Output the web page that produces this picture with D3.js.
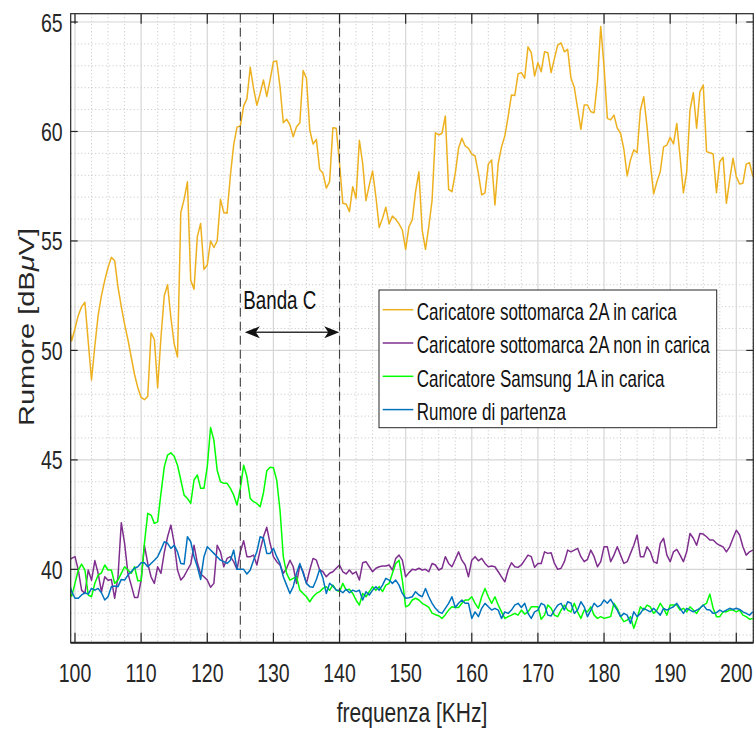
<!DOCTYPE html>
<html>
<head>
<meta charset="utf-8">
<script src="https://cdn.jsdelivr.net/npm/d3@7"></script>
<style>
html, body { margin: 0; padding: 0; background: #fff; }
svg { display: block; font-family: "Liberation Sans", Arial, Helvetica, sans-serif; }
</style>
</head>
<body>
<svg id="chart" width="756" height="729"></svg>
<script>
// sampling grid in kHz: one point every 0.5 kHz, from 99 to 202.5
var freq = d3.range(99, 202.75, 0.5);

// Caricatore sottomarca 2A in carica  (10 values = 5 kHz per row)
var sottomarcaCarica = [
  51.3, 50.44, 51.0, 51.6, 52.0, 52.2, 50.4, 48.65, 50.2, 51.6,
  52.5, 53.2, 53.8, 54.25, 54.1, 52.9, 52.0, 51.2, 50.5, 49.7,
  48.9, 48.3, 47.85, 47.75, 47.9, 50.8, 50.5, 48.3, 50.6, 52.5,
  53.0, 51.5, 50.3, 49.7, 56.3, 56.9, 57.7, 53.2, 52.8, 55.2,
  55.8, 53.7, 53.9, 55.0, 54.7, 55.0, 56.9, 56.3, 56.27, 58.0,
  59.4, 60.2, 60.25, 61.16, 61.5, 62.93, 61.97, 61.2, 61.74, 62.35,
  61.6, 62.35, 63.19, 63.22, 62.05, 60.4, 60.56, 60.3, 59.76, 60.22,
  60.4, 62.78, 62.43, 60.07, 59.43, 59.64, 58.27, 58.09, 57.41, 57.71,
  60.17, 60.15, 58.55, 56.72, 56.69, 56.34, 57.48, 56.95, 59.6, 58.55,
  56.84, 57.55, 58.2, 57.02, 55.61, 56.04, 56.54, 55.78, 56.14, 55.99,
  55.78, 55.5, 54.62, 55.65, 55.96, 57.25, 58.16, 55.5, 54.62, 55.65,
  56.87, 59.94, 59.84, 59.92, 60.71, 57.36, 57.25, 58.09, 59.23, 59.69,
  59.34, 59.23, 58.97, 58.88, 58.09, 57.1, 57.2, 58.51, 58.7, 56.64,
  58.55, 59.3, 59.8, 60.68, 61.67, 61.64, 62.63, 62.69, 62.43, 63.87,
  63.6, 62.53, 63.14, 62.73, 63.64, 63.6, 62.69, 63.34, 63.95, 64.05,
  63.64, 63.75, 62.43, 62.02, 61.06, 60.1, 61.21, 61.21, 60.9, 60.86,
  62.27, 64.79, 62.96, 60.6, 60.53, 60.75, 60.15, 59.92, 59.19, 57.97,
  58.7, 59.16, 59.03, 60.98, 61.59, 60.22, 58.55, 57.15, 57.71, 58.16,
  59.3, 59.38, 59.73, 59.43, 60.37, 58.85, 57.2, 58.16, 60.98, 61.77,
  60.15, 61.82, 62.12, 59.08, 59.03, 58.97, 57.2, 58.62, 58.82, 56.72,
  57.79, 58.78, 57.94, 57.6, 57.64, 58.51, 58.57, 57.94
];

// Caricatore sottomarca 2A non in carica
var sottomarcaNonCarica = [
  40.42, 40.5, 40.58, 39.97, 39.05, 38.9, 39.97, 39.5, 40.4, 39.82,
  38.98, 39.66, 39.5, 39.54, 38.68, 39.66, 42.13, 41.19, 39.82, 39.28,
  38.72, 38.72, 39.51, 41.1, 40.27, 39.66, 39.36, 40.12, 39.82, 40.76,
  41.49, 42.02, 41.19, 39.97, 39.51, 39.69, 39.97, 40.24, 41.1, 40.3,
  39.79, 39.66, 39.51, 39.18, 39.36, 41.1, 40.8, 40.12, 40.5, 40.58,
  40.35, 40.0, 40.8, 41.31, 40.58, 40.58, 40.65, 40.2, 40.88, 41.49,
  41.92, 41.19, 40.58, 40.35, 40.2, 39.82, 40.05, 40.42, 40.12, 39.36,
  40.2, 39.89, 39.36, 39.97, 40.5, 40.42, 39.97, 39.89, 39.66, 39.82,
  39.89, 40.05, 40.2, 39.89, 39.79, 39.97, 39.79, 39.89, 39.51, 40.3,
  40.35, 40.12, 39.89, 40.05, 40.12, 40.15, 40.15, 40.2, 39.97, 40.5,
  40.65, 40.42, 39.66, 39.85, 40.0, 39.97, 40.05, 39.97, 40.0, 39.89,
  40.27, 40.2, 39.97, 40.05, 40.58, 40.27, 40.12, 40.45, 40.8, 40.42,
  40.2, 39.66, 40.42, 40.58, 40.39, 40.5, 40.27, 40.12, 40.15, 40.12,
  39.89, 39.66, 39.43, 39.97, 40.3, 40.12, 40.09, 40.2, 40.42, 40.65,
  40.58, 40.09, 40.27, 40.27, 40.8, 40.73, 40.76, 40.27, 40.0, 40.05,
  40.35, 40.88, 40.8, 40.88, 40.96, 40.58, 40.35, 40.46, 40.88, 40.58,
  40.12, 40.35, 41.03, 41.03, 40.35, 40.65, 41.03, 40.65, 40.27, 40.35,
  40.73, 41.1, 41.57, 40.58, 40.58, 41.03, 40.8, 40.35, 40.27, 41.19,
  41.42, 40.65, 40.35, 40.8, 40.91, 40.65, 40.35, 40.8, 41.64, 41.42,
  41.1, 41.64, 41.61, 41.49, 41.34, 41.34, 41.19, 41.1, 41.03, 40.8,
  41.03, 41.42, 41.79, 41.57, 41.03, 40.65, 40.8, 40.88
];

// Caricatore Samsung 1A in carica
var samsungCarica = [
  39.05, 38.78, 39.36, 39.97, 40.24, 39.97, 38.83, 38.75, 39.36, 39.74,
  39.84, 40.2, 39.97, 39.97, 39.36, 39.51, 39.82, 40.12, 39.97, 39.82,
  40.12, 39.48, 39.48, 41.19, 42.56, 42.48, 42.1, 42.17, 43.47, 44.68,
  45.22, 45.32, 45.17, 44.76, 44.08, 43.39, 43.24, 43.01, 44.08, 44.31,
  43.7, 43.7, 44.68, 46.48, 45.9, 44.53, 44.0, 43.93, 43.93, 43.7,
  43.39, 42.94, 43.7, 44.76, 44.23, 43.24, 43.09, 43.01, 42.86, 43.5,
  44.5, 44.66, 44.64, 44.08, 42.71, 40.58, 39.82, 39.51, 39.59, 39.66,
  39.05, 38.9, 38.75, 38.52, 38.75, 38.9, 38.98, 39.13, 39.21, 39.05,
  39.28, 39.05, 38.98, 39.36, 39.05, 39.09, 38.9, 38.6, 38.37, 38.9,
  38.75, 38.98, 39.21, 39.05, 39.21, 38.98, 39.28, 39.36, 39.82, 40.27,
  40.42, 39.51, 38.29, 38.37, 38.6, 38.68, 38.6, 38.45, 38.37, 38.26,
  38.0, 37.93, 37.88, 37.76, 37.93, 38.14, 38.29, 38.26, 38.26, 38.45,
  38.6, 38.6, 38.75, 38.45, 38.22, 38.75, 39.13, 38.75, 38.45, 38.75,
  38.37, 38.06, 37.76, 37.84, 37.91, 37.99, 37.91, 38.14, 37.96, 38.06,
  38.29, 38.29, 38.29, 37.72, 37.91, 38.37, 38.22, 37.91, 37.84, 38.14,
  38.37, 38.14, 38.06, 38.45, 38.06, 37.76, 38.14, 38.06, 38.29, 37.91,
  37.76, 37.84, 37.76, 37.8, 37.84, 38.45, 38.22, 37.84, 37.61, 37.68,
  37.84, 37.31, 37.76, 38.29, 38.14, 38.37, 38.29, 37.99, 38.14, 38.45,
  38.22, 37.91, 38.37, 38.37, 38.37, 38.14, 38.22, 38.06, 38.29, 38.14,
  37.99, 38.22, 38.37, 38.45, 38.87, 38.22, 37.84, 37.84, 38.06, 38.06,
  38.14, 38.14, 38.06, 38.14, 37.91, 37.84, 37.72, 37.76
];

// Rumore di partenza
var rumorePartenza = [
  39.51, 38.98, 38.68, 38.68, 38.83, 38.93, 38.87, 39.13, 39.05, 39.13,
  38.93, 38.6, 38.75, 39.21, 39.24, 39.21, 39.54, 39.51, 39.74, 39.89,
  40.05, 40.12, 40.3, 40.3, 40.12, 40.27, 40.42, 40.58, 40.9, 41.26,
  41.19, 40.96, 41.1, 40.8, 40.27, 40.24, 41.49, 41.26, 40.58, 40.12,
  39.54, 40.58, 41.03, 40.88, 40.73, 40.58, 40.42, 40.35, 40.27, 40.42,
  40.88, 40.0, 40.0, 40.0, 39.79, 39.97, 40.42, 40.8, 41.49, 41.42,
  40.73, 40.73, 40.96, 40.58, 40.27, 39.66, 39.28, 38.9, 39.21, 39.82,
  40.27, 39.82, 39.36, 39.21, 39.18, 39.54, 40.0, 39.59, 38.9, 39.36,
  39.24, 39.05, 39.05, 38.93, 39.09, 38.93, 39.05, 38.98, 39.05, 38.6,
  38.98, 38.83, 39.05, 39.21, 39.05, 39.28, 39.59, 39.51, 39.36, 39.51,
  39.28, 38.9, 38.68, 38.7, 38.75, 38.98, 38.83, 38.75, 39.13, 38.75,
  38.45, 38.22, 38.06, 37.99, 38.22, 38.45, 38.75, 38.26, 38.45, 38.6,
  38.45, 38.45, 37.76, 38.06, 37.84, 38.22, 38.45, 38.29, 38.14, 38.22,
  38.14, 37.76, 38.06, 37.99, 38.14, 38.37, 38.45, 38.26, 38.45, 37.99,
  37.76, 38.06, 38.14, 38.45, 38.37, 37.91, 37.87, 38.14, 38.37, 38.45,
  38.14, 38.52, 38.45, 37.99, 38.14, 38.52, 38.29, 37.84, 38.14, 38.45,
  38.29, 38.37, 38.6, 38.45, 38.63, 38.37, 38.14, 37.84, 37.99, 37.91,
  37.53, 38.06, 37.84, 37.99, 38.22, 38.14, 38.06, 38.22, 38.06, 37.91,
  38.22, 38.14, 38.22, 38.29, 38.45, 38.22, 37.99, 38.22, 38.14, 38.06,
  38.14, 38.22, 38.37, 38.17, 38.14, 37.99, 38.02, 38.14, 38.06, 38.14,
  38.22, 38.17, 38.22, 38.17, 38.06, 37.99, 37.91, 38.06
];

var seriesNames = [
  "Caricatore sottomarca 2A in carica",
  "Caricatore sottomarca 2A non in carica",
  "Caricatore Samsung 1A in carica",
  "Rumore di partenza"
];
var seriesValues = [sottomarcaCarica, sottomarcaNonCarica, samsungCarica, rumorePartenza];
var colors = ["#EDB120", "#7E2F8E", "#00FF00", "#0072BD"];

var xTicks = [100, 110, 120, 130, 140, 150, 160, 170, 180, 190, 200];
var yTicks = [40, 45, 50, 55, 60, 65];
var bandEdges = [125, 140];   // "Banda C"

// ---- layout (plot box in px)
var pL = 70.7, pR = 753.3, pT = 13.7, pB = 642.7;
var SX = 0.75;   // the original figure is squeezed horizontally
var ink = "#262626";

var x = d3.scaleLinear().domain([99.35, 202.57]).range([pL, pR]);
var y = d3.scaleLinear().domain([36.65, 65.38]).range([pB, pT]);

var svg = d3.select("#chart");

svg.append("defs").append("clipPath").attr("id", "plotclip")
  .append("rect")
  .attr("x", pL).attr("y", pT)
  .attr("width", pR - pL).attr("height", pB - pT);

// minor grid (dotted)
var xMinor = d3.range(100, 203, 2.5).filter(function(d){ return d % 10 !== 0; });
var yMinor = d3.range(37, 66, 1).filter(function(d){ return d % 5 !== 0; });
var grid = svg.append("g");
grid.selectAll(".mx").data(xMinor).enter().append("line")
  .attr("x1", function(d){ return x(d); }).attr("x2", function(d){ return x(d); })
  .attr("y1", pT).attr("y2", pB)
  .attr("stroke", "#c4c4c4").attr("stroke-width", 1).attr("stroke-dasharray", "1,2.5");
grid.selectAll(".my").data(yMinor).enter().append("line")
  .attr("x1", pL).attr("x2", pR)
  .attr("y1", function(d){ return y(d); }).attr("y2", function(d){ return y(d); })
  .attr("stroke", "#c4c4c4").attr("stroke-width", 1).attr("stroke-dasharray", "1,2.5");
// major grid
grid.selectAll(".gx").data(xTicks).enter().append("line")
  .attr("x1", function(d){ return x(d); }).attr("x2", function(d){ return x(d); })
  .attr("y1", pT).attr("y2", pB)
  .attr("stroke", "#d6d6d6").attr("stroke-width", 1.2);
grid.selectAll(".gy").data(yTicks).enter().append("line")
  .attr("x1", pL).attr("x2", pR)
  .attr("y1", function(d){ return y(d); }).attr("y2", function(d){ return y(d); })
  .attr("stroke", "#d6d6d6").attr("stroke-width", 1.2);

// data lines
var line = d3.line()
  .x(function(d){ return x(d[0]); })
  .y(function(d){ return y(d[1]); });

var plot = svg.append("g").attr("clip-path", "url(#plotclip)");
seriesValues.forEach(function(vals, k){
  var pts = vals.map(function(v, i){ return [freq[i], v]; });
  plot.append("path")
    .datum(pts)
    .attr("d", line)
    .attr("fill", "none")
    .attr("stroke", colors[k])
    .attr("stroke-width", 1.5)
    .attr("stroke-linejoin", "round");
});

// band C dashed limits
plot.selectAll(".band").data(bandEdges).enter().append("line")
  .attr("x1", function(d){ return x(d); }).attr("x2", function(d){ return x(d); })
  .attr("y1", pT).attr("y2", pB)
  .attr("stroke", "#404040").attr("stroke-width", 1.1)
  .attr("stroke-dasharray", "9,5");

// double arrow between the two limits
var ay = 332.3;
var ax1 = x(bandEdges[0]) + 4.5, ax2 = x(bandEdges[1]) - 0.3;
svg.append("line")
  .attr("x1", ax1 + 10).attr("x2", ax2 - 10)
  .attr("y1", ay).attr("y2", ay)
  .attr("stroke", "#333").attr("stroke-width", 1.4);
function head(tip, dir) {
  return "M" + tip + "," + ay +
    "L" + (tip + dir * 15) + "," + (ay - 6) +
    "L" + (tip + dir * 11) + "," + ay +
    "L" + (tip + dir * 15) + "," + (ay + 6) + "Z";
}
svg.append("path").attr("d", head(ax1, 1)).attr("fill", "#111");
svg.append("path").attr("d", head(ax2, -1)).attr("fill", "#111");

svg.append("text")
  .attr("transform", "translate(243.3,308.5) scale(" + SX + ",1)")
  .attr("font-size", 25).attr("fill", "#111")
  .text("Banda C");

// axes box with inward ticks
var axes = svg.append("g").attr("stroke", ink).attr("stroke-width", 1.2);
axes.append("rect")
  .attr("x", pL).attr("y", pT)
  .attr("width", pR - pL).attr("height", pB - pT)
  .attr("fill", "none");
xTicks.forEach(function(t){
  axes.append("line").attr("x1", x(t)).attr("x2", x(t)).attr("y1", pB).attr("y2", pB - 10);
  axes.append("line").attr("x1", x(t)).attr("x2", x(t)).attr("y1", pT).attr("y2", pT + 10);
});
yTicks.forEach(function(t){
  axes.append("line").attr("x1", pL).attr("x2", pL + 7).attr("y1", y(t)).attr("y2", y(t));
  axes.append("line").attr("x1", pR).attr("x2", pR - 7).attr("y1", y(t)).attr("y2", y(t));
});
svg.append("line")
  .attr("x1", pL).attr("x2", pR).attr("y1", pB).attr("y2", pB)
  .attr("stroke", ink).attr("stroke-width", 2);

// tick labels
svg.selectAll(".xl").data(xTicks).enter().append("text")
  .attr("transform", function(d){ return "translate(" + x(d) + ",681.5) scale(" + SX + ",1)"; })
  .attr("text-anchor", "middle")
  .attr("font-size", 26).attr("fill", ink)
  .text(function(d){ return d; });
svg.selectAll(".yl").data(yTicks).enter().append("text")
  .attr("transform", function(d){ return "translate(62.7," + (y(d) + 9.5) + ") scale(" + SX + ",1)"; })
  .attr("text-anchor", "end")
  .attr("font-size", 26).attr("fill", ink)
  .text(function(d){ return d; });

// axis titles
svg.append("text")
  .attr("transform", "translate(412,721.5) scale(" + SX + ",1)")
  .attr("text-anchor", "middle")
  .attr("font-size", 28).attr("fill", ink)
  .text("frequenza [KHz]");
var yt = svg.append("text")
  .attr("transform", "translate(33.5,327) scale(" + SX + ",1) rotate(-90)")
  .attr("text-anchor", "middle")
  .attr("font-size", 29).attr("fill", ink);
yt.append("tspan").text("Rumore [dB");
yt.append("tspan").attr("font-style", "italic").text("\u03BC");
yt.append("tspan").text("V]");

// legend
var lg = svg.append("g");
lg.append("rect")
  .attr("x", 379).attr("y", 290)
  .attr("width", 337.7).attr("height", 137.7)
  .attr("fill", "#fff").attr("stroke", ink).attr("stroke-width", 1);
seriesNames.forEach(function(name, i){
  var cy = 311.7 + 33.3 * i;
  lg.append("line")
    .attr("x1", 382.7).attr("x2", 413.3)
    .attr("y1", cy - 2).attr("y2", cy - 2)
    .attr("stroke", colors[i]).attr("stroke-width", 1.5);
  lg.append("text")
    .attr("transform", "translate(416.7," + (cy + 8.3) + ") scale(0.74,1)")
    .attr("font-size", 23).attr("fill", "#111")
    .text(name);
});
</script>
</body>
</html>
